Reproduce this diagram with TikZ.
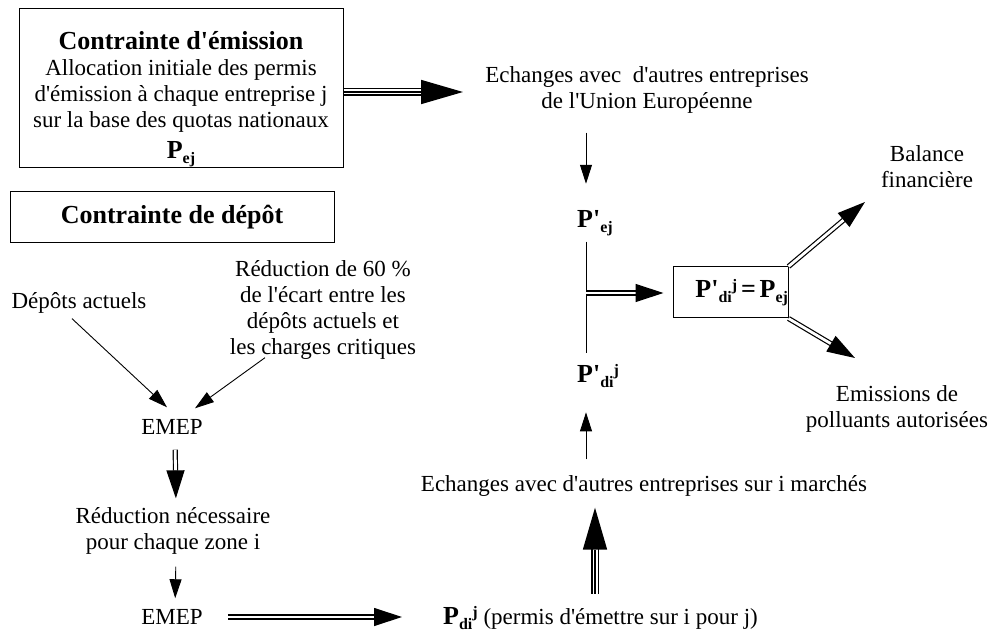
\documentclass[tikz,border=0pt]{standalone}
\usepackage{fontspec}
\setmainfont{Liberation Serif}[Ligatures=TeXOff]
\usetikzlibrary{arrows.meta,calc}
\tikzset{>=Stealth}
\tikzset{
  txt/.style={inner sep=0pt, align=center, font=\fontsize{23}{26}\selectfont},
  cadre/.style={draw, line width=1pt, inner sep=0pt, align=center,
    font=\fontsize{23}{26}\selectfont},
  fine/.style={line width=0.9pt, -{Triangle[length=19pt,width=12pt]}},
  dbl/.style={double, line width=1.2pt, double distance=2.8pt,
    -{Triangle[length=28pt,width=18pt]}},
  tpl/.style={double, line width=1.7pt, double distance=5pt,
    -{Triangle[length=42pt,width=24pt]}},
  mid/.style={line width=1.5pt}
}
\newcommand{\pvar}[3]{{\bfseries\fontsize{26}{27}\selectfont P#1\raisebox{-5pt}{\fontsize{16}{16}\selectfont #2}\raisebox{7pt}{\fontsize{16}{16}\selectfont #3}}}

\begin{document}
\begin{tikzpicture}[x=1pt,y=-1pt]
\useasboundingbox (0,0) rectangle (989,631);

% cadres de gauche
\node[cadre, minimum width=324pt, minimum height=159pt] (emission) at (181,88.5)
  {\rule{0pt}{40pt}{\bfseries\fontsize{26}{28}\selectfont Contrainte d'émission}\\[0pt]
   Allocation initiale des permis\\
   d'émission à chaque entreprise j\\
   sur la base des quotas nationaux\\[5pt]
   \pvar{}{ej}{}};
\node[cadre, minimum width=324pt, minimum height=51pt,
  font=\bfseries\fontsize{26}{28}\selectfont] (depot) at (172,217.5)
  {Contrainte de dépôt};

% chaine du depot
\node[txt] (actuels) at (79,303) {Dépôts actuels};
\node[txt] (ecart) at (323,310)
  {Réduction de 60 \%\\de l'écart entre les\\dépôts actuels et\\les charges critiques};
\node[txt] (emep1) at (172,427) {EMEP};
\node[txt] (zone) at (173,531) {Réduction nécessaire\\pour chaque zone i};
\node[txt] (emep2) at (172,617) {EMEP};
\node[txt, anchor=base west] (pdi) at (443,624)
  {\pvar{}{di}{j} (permis d'émettre sur i pour j)};

% echanges
\node[txt] (ue) at (647,90)
  {Echanges avec~ d'autres entreprises\\de l'Union Européenne};
\node[txt, anchor=base west] (pej) at (577,228) {\pvar{'}{ej}{}};
\node[txt, anchor=base west] (pdip) at (577,383) {\pvar{'}{di}{j}};
\node[txt] (marches) at (644,486)
  {Echanges avec d'autres entreprises sur i marchés};
\node[cadre, text width=115pt, minimum height=51pt, align=right] (egal)
  at (730.5,292.5) {\pvar{'}{di}{j}\,{\bfseries\fontsize{26}{27}\selectfont =}\,\pvar{}{ej}{}};
\node[txt] (bal) at (927,167) {Balance\\financière};
\node[txt] (emis) at (897,409) {Emissions de\\polluants autorisées};

\coordinate (col) at (586,0);
\coordinate (col2) at (595,0);
\coordinate (a1) at (463,92);
\coordinate (br) at (586,293);
\coordinate (tb) at (865,202);
\coordinate (te) at (855,358);

% fleches
\draw[tpl] (emission.east |- a1) -- (a1);
\draw[mid, shorten >=42pt] (emission.east |- a1) -- (a1);
\draw[fine, shorten <=19pt, shorten >=27pt] (ue.south -| col) -- (pej.north -| col);
\draw[line width=0.9pt, shorten <=5pt, shorten >=12pt] (pej.south -| col) -- (pdip.north -| col);
\draw[dbl, shorten >=9pt] (br) -- (egal.west |- br);
\draw[dbl] (egal.north east) -- (tb);
\draw[dbl] (egal.south east) -- (te);
\draw[fine, shorten <=16pt, shorten >=24pt] (marches.north -| col) -- (pdip.south -| col);
\draw[tpl, shorten <=12pt, shorten >=11pt] (pdi.north -| col2) -- (marches.south -| col2);
\draw[mid, shorten <=12pt, shorten >=53pt] (pdi.north -| col2) -- (marches.south -| col2);
\draw[fine] ($(actuels.south)+(-7,5)$) -- ($(emep1.north)+(-5,-12)$);
\draw[fine] ($(ecart.south)+(-58,-2)$) -- ($(emep1.north)+(23,-11)$);
\draw[dbl, shorten <=15pt, shorten >=9pt] ([xshift=3pt]emep1.south) -- ([xshift=3pt]zone.north);
\draw[fine, shorten <=12pt, shorten >=11pt] ([xshift=3pt]zone.south) -- ([xshift=3pt]emep2.north);
\draw[dbl, shorten <=25pt, shorten >=41pt] (emep2.east) -- (emep2.east -| pdi.west);
\end{tikzpicture}
\end{document}
